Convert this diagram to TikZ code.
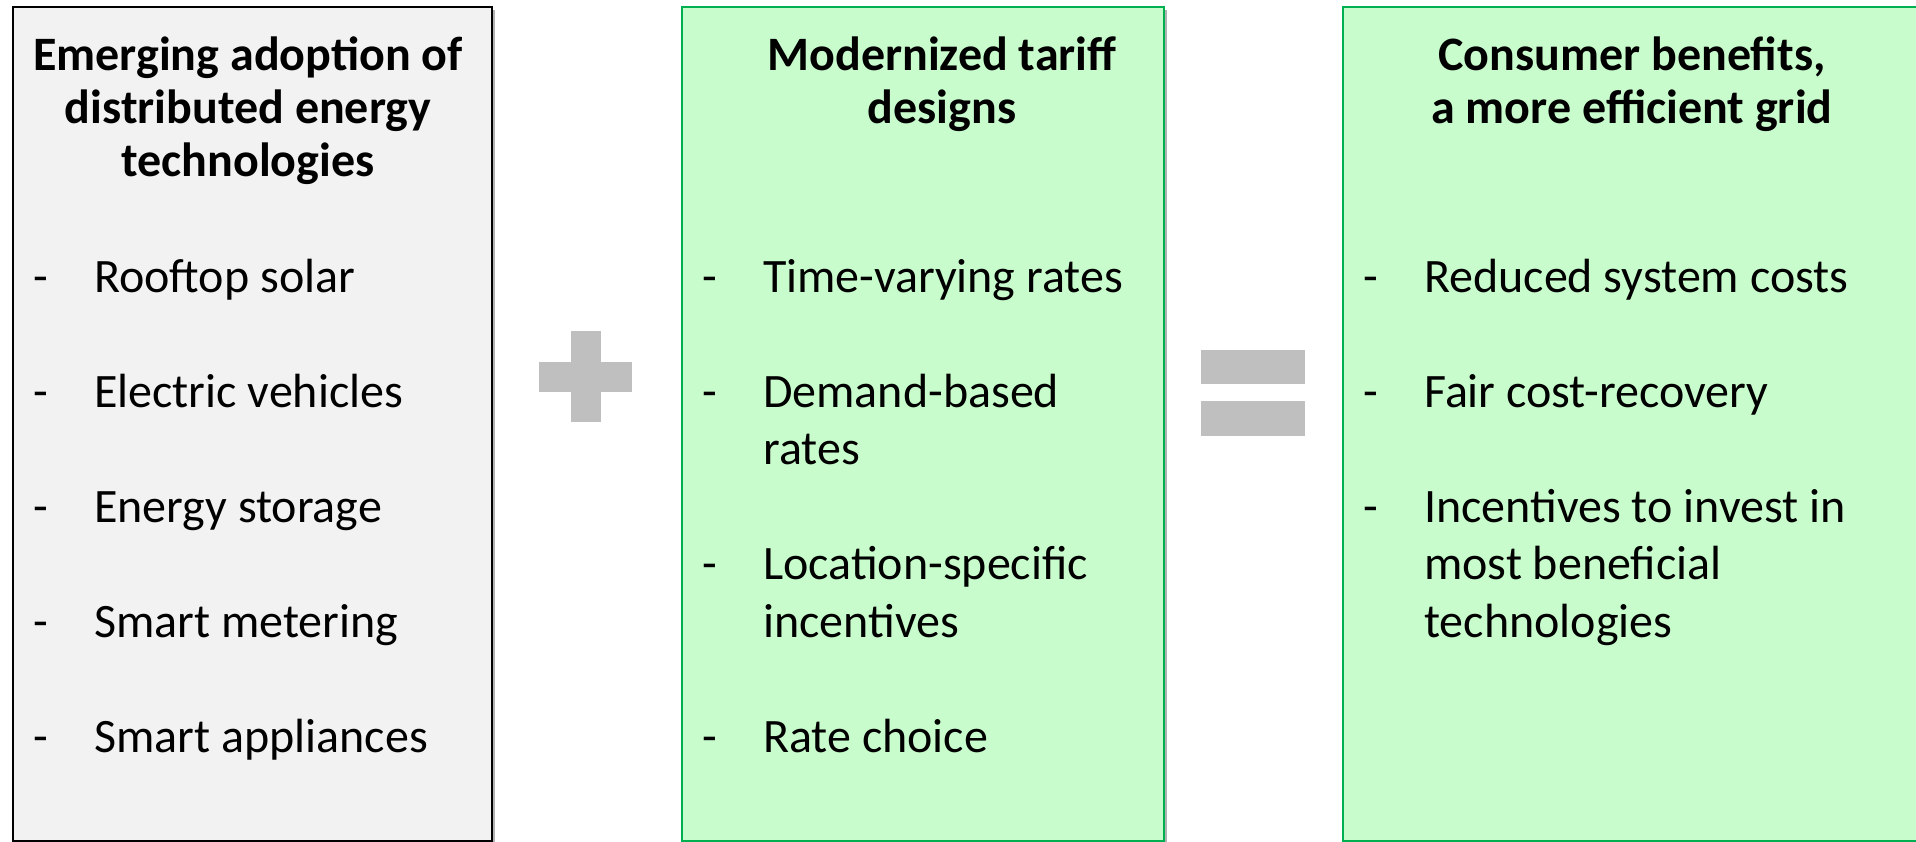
\documentclass[tikz,border=0pt]{standalone}
\usepackage{fontspec}
\setmainfont{Carlito}
\usepackage{tikz}
\usetikzlibrary{positioning,shadows}

\definecolor{panelgray}{RGB}{242,242,242}
\definecolor{panelgreen}{RGB}{200,252,204}
\definecolor{rimgreen}{RGB}{0,176,80}
\definecolor{signgray}{RGB}{191,191,191}

\begin{document}
\begin{tikzpicture}[
  x=1pt, y=-1pt,
  panel/.style={anchor=north west, minimum height=834pt, inner sep=0pt, line width=2pt,
    drop shadow={shadow xshift=3pt, shadow yshift=-3pt, fill=black!50, opacity=0.6}},
  graypanel/.style={panel, draw=black, fill=panelgray, minimum width=479pt},
  greenpanel/.style={panel, draw=rimgreen, fill=panelgreen, minimum width=#1},
  heading/.style={anchor=base, align=center, inner sep=0pt, font=\fontsize{48pt}{53pt}\selectfont\bfseries},
  bullet/.style={anchor=base west, inner sep=0pt, font=\fontsize{48pt}{57.5pt}\selectfont},
  entry/.style={anchor=base west, align=left, inner sep=0pt, font=\fontsize{48pt}{57.5pt}\selectfont},
  sign/.style={fill=signgray}
]
\clip (0,0) rectangle (1916,842);
\fill[white] (0,0) rectangle (1916,842);

\node[graypanel] (adopt) at (12,6) {};
\node[greenpanel=482pt] (tariff) at (681,6) {};
\node[greenpanel=620pt] (benefit) at (1342,6) {};

% multi-line nodes sit on the baseline of their last line
\node[heading] (adopthead) at (248,177) {Emerging adoption of\\distributed energy\\technologies};
\node[heading] (tariffhead) at (942,124) {Modernized tariff\\designs};
\node[heading] (benefithead) at (1632,124) {Consumer benefits,\\a more efficient grid};

\node[bullet] (a1d) at (33,292) {-};
\node[entry] (a1) at (94,292) {Rooftop solar};
\node[bullet] (a2d) at (33,407) {-};
\node[entry] (a2) at (94,407) {Electric vehicles};
\node[bullet] (a3d) at (33,522) {-};
\node[entry] (a3) at (94,522) {Energy storage};
\node[bullet] (a4d) at (33,637) {-};
\node[entry] (a4) at (94,637) {Smart metering};
\node[bullet] (a5d) at (33,752) {-};
\node[entry] (a5) at (94,752) {Smart appliances};

\node[bullet] (t1d) at (702,292) {-};
\node[entry] (t1) at (763,292) {Time-varying rates};
\node[bullet] (t2d) at (702,407) {-};
\node[entry] (t2) at (763,464.5) {Demand-based\\rates};
\node[bullet] (t3d) at (702,579.5) {-};
\node[entry] (t3) at (763,637) {Location-specific\\incentives};
\node[bullet] (t4d) at (702,752) {-};
\node[entry] (t4) at (763,752) {Rate choice};

\node[bullet] (b1d) at (1363,292) {-};
\node[entry] (b1) at (1424,292) {Reduced system costs};
\node[bullet] (b2d) at (1363,407) {-};
\node[entry] (b2) at (1424,407) {Fair cost-recovery};
\node[bullet] (b3d) at (1363,522) {-};
\node[entry] (b3) at (1424,637) {Incentives to invest in\\most beneficial\\technologies};

\fill[sign] (539,362) rectangle (632,392);
\fill[sign] (571,331) rectangle (601,422);
\fill[sign] (1201,350) rectangle (1305,384);
\fill[sign] (1201,401) rectangle (1305,436);

\end{tikzpicture}
\end{document}
